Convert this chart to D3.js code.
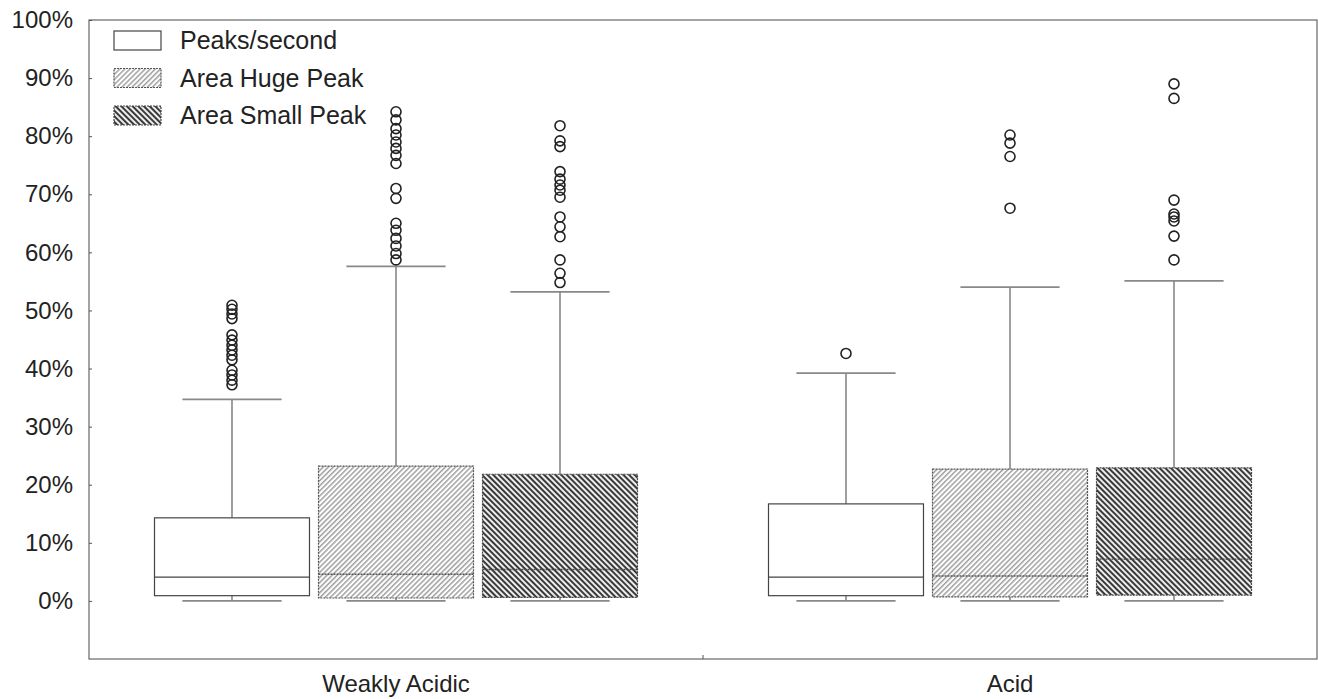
<!DOCTYPE html>
<html>
<head>
<meta charset="utf-8">
<script src="https://cdn.jsdelivr.net/npm/d3@7"></script>
<style>
	body { margin: 0; background: #fff; }
	svg text { font-family: "Liberation Sans", Arial, sans-serif; fill: #222; }
</style>
</head>
<body>
<svg id="chart" width="1318" height="699"></svg>
<script>
// values, in percent
const categories = ['Weakly Acidic', 'Acid'];
const series = ['Peaks/second', 'Area Huge Peak', 'Area Small Peak'];
const yTicks = [0, 10, 20, 30, 40, 50, 60, 70, 80, 90, 100];

// [category][series]
const whiskerLow = [[0, 0, 0], [0, 0, 0]];
const q1 = [[0.9, 0.5, 0.6], [0.9, 0.7, 1.0]];
const median = [[4.1, 4.6, 5.4], [4.1, 4.3, 7.2]];
const q3 = [[14.3, 23.2, 21.8], [16.7, 22.7, 22.9]];
const whiskerHigh = [[34.7, 57.6, 53.2], [39.2, 54.0, 55.1]];
const outliers = [
	[
		[37.2, 38.0, 38.9, 39.7, 41.5, 42.3, 43.2, 44.0, 44.9, 45.8, 48.6, 49.4, 50.2, 50.9],
		[58.7, 59.8, 61.1, 62.4, 63.8, 65.0, 69.3, 71.0, 75.3, 76.7, 77.9, 79.0, 80.2, 81.3, 82.8, 84.2],
		[54.8, 56.4, 58.7, 62.7, 64.4, 66.1, 69.5, 70.7, 71.6, 72.6, 73.9, 78.2, 79.2, 81.8]
	],
	[
		[42.6],
		[67.6, 76.5, 78.8, 80.2],
		[58.7, 62.8, 65.4, 66.1, 66.6, 69.0, 86.5, 89.0]
	]
];

const svg = d3.select('#chart');
const plotLeft = 89, plotRight = 1317, plotTop = 20, plotBottom = 659;

const y = d3.scaleLinear().domain([-10, 100]).range([plotBottom, plotTop]);
const x = d3.scaleBand().domain(categories).range([plotLeft, plotRight]);
const inner = d3.scaleBand().domain(series).range([-241.5, 241.5]).paddingInner(0.055);

// hatch patterns
const defs = svg.append('defs');
defs.append('pattern')
	.attr('id', 'hatchHuge')
	.attr('patternUnits', 'userSpaceOnUse')
	.attr('width', 3.6).attr('height', 3.6)
	.attr('patternTransform', 'rotate(45)')
	.call(p => {
		p.append('rect').attr('width', 3.6).attr('height', 3.6).attr('fill', '#fff');
		p.append('rect').attr('width', 1.5).attr('height', 3.6).attr('fill', '#a0a0a0');
	});
defs.append('pattern')
	.attr('id', 'hatchSmall')
	.attr('patternUnits', 'userSpaceOnUse')
	.attr('width', 4).attr('height', 4)
	.attr('patternTransform', 'rotate(-45)')
	.call(p => {
		p.append('rect').attr('width', 4).attr('height', 4).attr('fill', '#eee');
		p.append('rect').attr('width', 2).attr('height', 4).attr('fill', '#3a3a3a');
	});

const fills = ['#fff', 'url(#hatchHuge)', 'url(#hatchSmall)'];
const boxStroke = ['#444', '#555', '#444'];
const boxDash = [null, '2,1', '2,1'];

// frame
svg.append('rect')
	.attr('x', plotLeft).attr('y', plotTop)
	.attr('width', plotRight - plotLeft).attr('height', plotBottom - plotTop)
	.attr('fill', 'none').attr('stroke', '#666').attr('stroke-width', 1.2);

// y axis
const yAxis = d3.axisLeft(y).tickValues(yTicks).tickSize(-3).tickPadding(16)
	.tickFormat(d => d + '%');
svg.append('g')
	.attr('transform', 'translate(' + plotLeft + ',0)')
	.call(yAxis)
	.call(g => g.select('.domain').remove())
	.call(g => g.selectAll('.tick line').attr('stroke', '#555'))
	.call(g => g.selectAll('.tick text')
		.attr('font-size', 24)
		.attr('font-family', '"Liberation Sans", Arial, sans-serif')
		.attr('fill', '#222'));

// x axis
svg.append('g')
	.attr('transform', 'translate(0,' + plotBottom + ')')
	.call(d3.axisBottom(x).tickSize(0).tickPadding(16))
	.call(g => g.select('.domain').remove())
	.call(g => g.selectAll('.tick text')
		.attr('font-size', 24)
		.attr('font-family', '"Liberation Sans", Arial, sans-serif')
		.attr('fill', '#222'));

// divider tick between groups
svg.append('line')
	.attr('x1', x('Acid')).attr('x2', x('Acid'))
	.attr('y1', plotBottom).attr('y2', plotBottom - 4)
	.attr('stroke', '#555');

// boxes
const bw = inner.bandwidth();
categories.forEach(function(cat, c) {
	series.forEach(function(s, i) {
		const cx = x(cat) + x.bandwidth() / 2 + inner(s) + bw / 2;
		const g = svg.append('g');
		const capW = bw * 0.64;

		// whiskers
		g.append('line')
			.attr('x1', cx).attr('x2', cx)
			.attr('y1', y(whiskerHigh[c][i])).attr('y2', y(q3[c][i]))
			.attr('stroke', '#888').attr('stroke-width', 1.6);
		g.append('line')
			.attr('x1', cx).attr('x2', cx)
			.attr('y1', y(whiskerLow[c][i])).attr('y2', y(q1[c][i]))
			.attr('stroke', '#888').attr('stroke-width', 1.6);
		[whiskerHigh[c][i], whiskerLow[c][i]].forEach(function(v) {
			g.append('line')
				.attr('x1', cx - capW / 2).attr('x2', cx + capW / 2)
				.attr('y1', y(v)).attr('y2', y(v))
				.attr('stroke', '#888').attr('stroke-width', 1.8);
		});

		g.append('rect')
			.attr('x', cx - bw / 2).attr('width', bw)
			.attr('y', y(q3[c][i])).attr('height', y(q1[c][i]) - y(q3[c][i]))
			.attr('fill', fills[i])
			.attr('stroke', boxStroke[i]).attr('stroke-width', 1.2)
			.attr('stroke-dasharray', boxDash[i]);
		g.append('line')
			.attr('x1', cx - bw / 2).attr('x2', cx + bw / 2)
			.attr('y1', y(median[c][i])).attr('y2', y(median[c][i]))
			.attr('stroke', boxStroke[i]).attr('stroke-width', 1.4)
			.attr('stroke-dasharray', boxDash[i]);

		g.selectAll('circle.out')
			.data(outliers[c][i])
			.enter().append('circle')
			.attr('class', 'out')
			.attr('cx', cx).attr('cy', d => y(d))
			.attr('r', 5)
			.attr('fill', 'none')
			.attr('stroke', '#222').attr('stroke-width', 1.6);
	});
});

// legend
const legend = svg.append('g').attr('transform', 'translate(114,31)');
series.forEach(function(s, i) {
	const row = legend.append('g').attr('transform', 'translate(0,' + (i * 37.5) + ')');
	row.append('rect')
		.attr('width', 47).attr('height', 19)
		.attr('fill', fills[i])
		.attr('stroke', boxStroke[i]).attr('stroke-width', 1.2)
		.attr('stroke-dasharray', boxDash[i]);
	row.append('text')
		.attr('x', 66).attr('y', 18)
		.attr('font-size', 25)
		.text(s);
});
</script>
</body>
</html>
